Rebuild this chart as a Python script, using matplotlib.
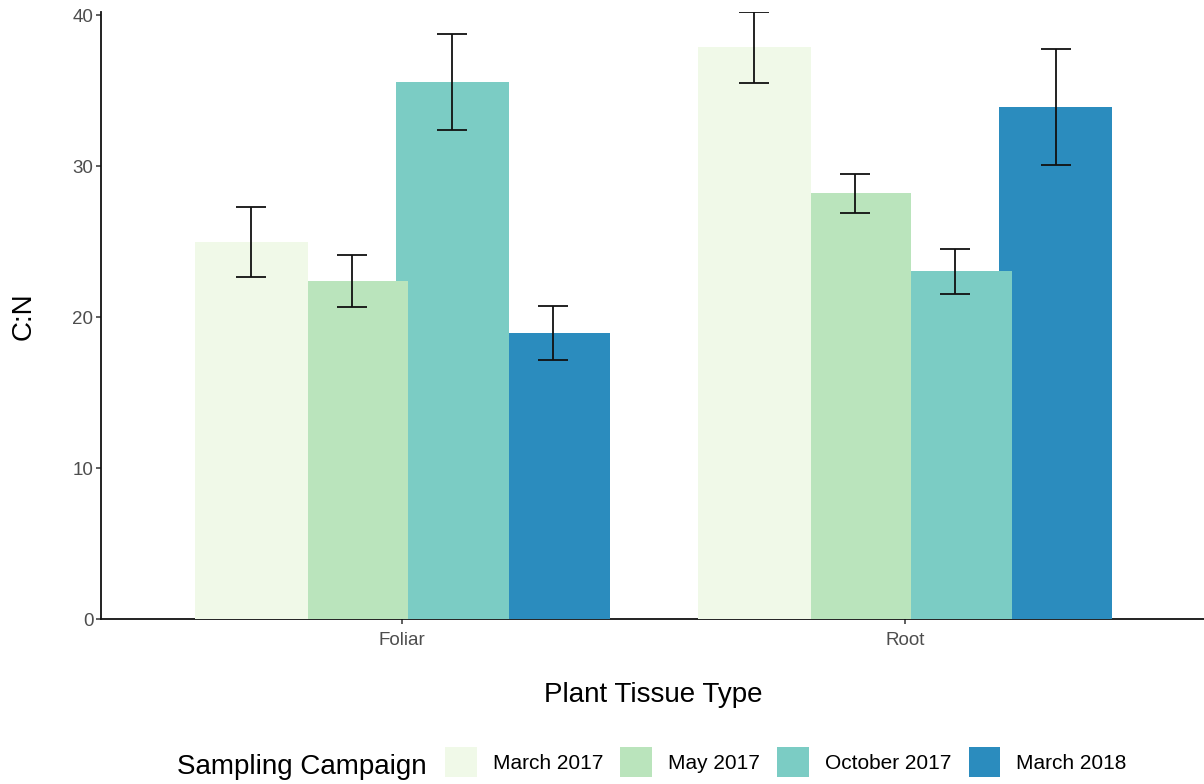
import numpy as np
import matplotlib
matplotlib.use("Agg")
import matplotlib.pyplot as plt
from matplotlib.patches import Patch

plt.rcParams["font.family"] = ["Liberation Sans", "DejaVu Sans"]

# C:N ratio by plant tissue and sampling campaign (mean and standard error)
tissues = ["Foliar", "Root"]
campaigns = ["March 2017", "May 2017", "October 2017", "March 2018"]

mean_mar2017 = [25.0, 37.88]
mean_may2017 = [22.4, 28.22]
mean_oct2017 = [35.56, 23.03]
mean_mar2018 = [18.95, 33.9]

se_mar2017 = [2.33, 2.35]
se_may2017 = [1.74, 1.29]
se_oct2017 = [3.18, 1.50]
se_mar2018 = [1.79, 3.83]

y_ticks = [0, 10, 20, 30, 40]

means = [mean_mar2017, mean_may2017, mean_oct2017, mean_mar2018]
errors = [se_mar2017, se_may2017, se_oct2017, se_mar2018]
colors = ["#F0F9E8", "#BAE4BC", "#7BCCC4", "#2B8CBE"]

W, H, DPI = 1204, 784, 100
fig = plt.figure(figsize=(W / DPI, H / DPI), dpi=DPI)

left_px, right_px = 100.5, 1206.6
bottom_px, top_px = 619.3, 11.7
ax = fig.add_axes([left_px / W, 1 - bottom_px / H,
                   (right_px - left_px) / W, (bottom_px - top_px) / H])

x = np.arange(1, len(tissues) + 1)
n = len(campaigns)
dodge = 0.8 / n
bar_w = 0.9 / n
offsets = (np.arange(n) - (n - 1) / 2) * dodge

for i, (camp, m, e, c) in enumerate(zip(campaigns, means, errors, colors)):
    xi = x + offsets[i]
    ax.bar(xi, m, width=bar_w, color=c, edgecolor="none", zorder=10 - i)
    ax.errorbar(xi, m, yerr=e, fmt="none", ecolor="#111111", elinewidth=1.3,
                capsize=11, capthick=1.3, zorder=20)

top = max(np.max(np.array(m) + np.array(e)) for m, e in zip(means, errors))
ax.set_ylim(0, top)
ax.set_xlim(0.4, 2.6)

ax.set_xticks(x)
ax.set_xticklabels(tissues)
ax.set_yticks(y_ticks)
ax.set_yticklabels([str(t) for t in y_ticks])

for s in ["top", "right"]:
    ax.spines[s].set_visible(False)
for s in ["left", "bottom"]:
    ax.spines[s].set_color("#111111")
    ax.spines[s].set_linewidth(1.3)

ax.tick_params(axis="y", length=3.6, width=1.1, color="#333333",
               labelsize=13.5, labelcolor="#4D4D4D", pad=1.5)
ax.tick_params(axis="x", length=3.4, width=1.1, color="#333333",
               labelsize=13.5, labelcolor="#4D4D4D", pad=5.5)

fig.text(653 / W, 1 - 702 / H, "Plant Tissue Type", fontsize=20,
         ha="center", va="baseline", color="black")
fig.text(24 / W, 1 - 316 / H, "C:N", fontsize=20, rotation=90,
         ha="center", va="center", color="black")

# Legend: title on the left, keys in one row
fig.text(177 / W, 1 - 774 / H, "Sampling Campaign", fontsize=20,
         ha="left", va="baseline", color="black")
handles = [Patch(facecolor=c, edgecolor="none") for c in colors]
fig.legend(handles, campaigns, ncol=4, loc="center left",
           bbox_to_anchor=(445 / W, 1 - 762.2 / H), frameon=False,
           fontsize=15, handlelength=1.52, handleheight=1.85,
           handletextpad=0.77, columnspacing=0.83, borderpad=0,
           borderaxespad=0)

fig.savefig("out.png", dpi=DPI)
